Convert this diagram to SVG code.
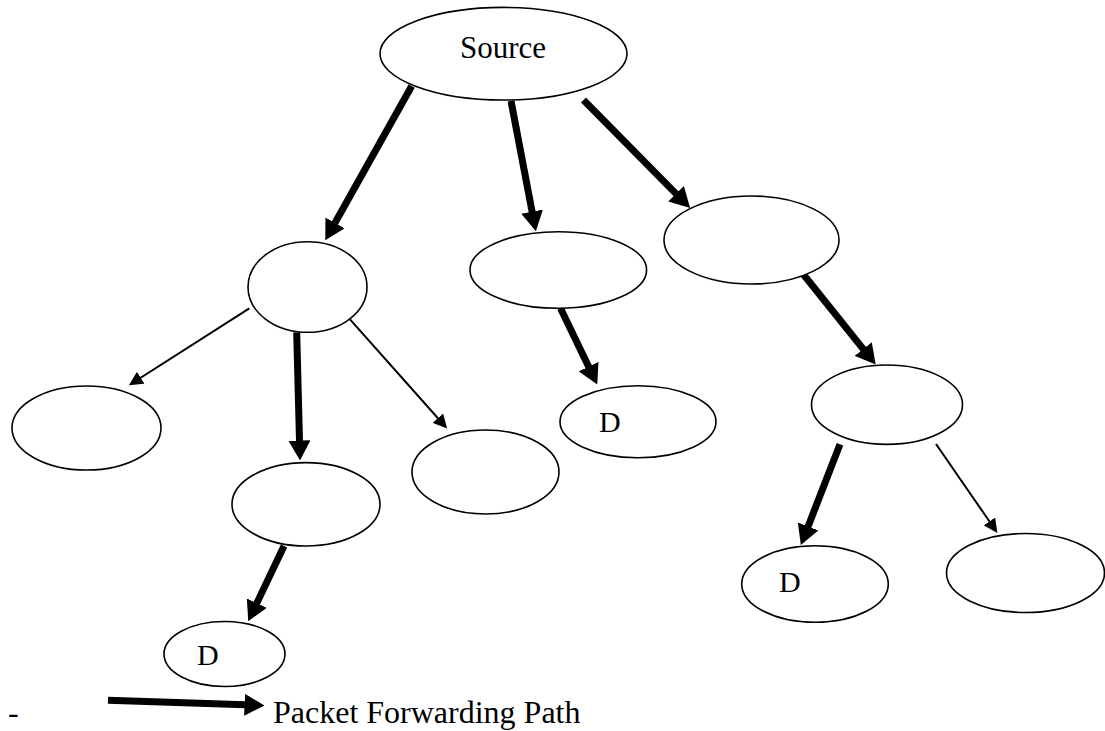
<svg xmlns="http://www.w3.org/2000/svg" width="1105" height="731" viewBox="0 0 1105 731">
<style>
.node{fill:#fff;stroke:#000;stroke-width:1.6}
.thick{stroke:#000;stroke-width:7;fill:none}
.thin{stroke:#000;stroke-width:2;fill:none}
text{fill:#000}
</style>
<defs>
<marker id="hk" markerUnits="userSpaceOnUse" viewBox="0 -11 20 22" refX="0.5" refY="0" markerWidth="20" markerHeight="22" orient="auto">
<path d="M0,-11 L20,0 L0,11 Z" fill="#000"/>
</marker>
<marker id="hn" markerUnits="userSpaceOnUse" viewBox="0 -7 14 14" refX="0.5" refY="0" markerWidth="14" markerHeight="14" orient="auto">
<path d="M0,-7 L14,0 L0,7 Z" fill="#000"/>
</marker>
</defs>
<rect width="1105" height="731" fill="#fff"/>
<g id="connectors">
<line class="thick" x1="411.7" y1="86" x2="334.8" y2="223.3" marker-end="url(#hk)"/>
<line class="thick" x1="511" y1="101" x2="532.2" y2="212.1" marker-end="url(#hk)"/>
<line class="thick" x1="583.5" y1="100" x2="676.4" y2="194.1" marker-end="url(#hk)"/>
<line class="thin" x1="249.3" y1="308.3" x2="140.3" y2="378" marker-end="url(#hn)"/>
<line class="thick" x1="296.7" y1="332.3" x2="299.5" y2="441" marker-end="url(#hk)"/>
<line class="thin" x1="350" y1="319.3" x2="438.2" y2="418.5" marker-end="url(#hn)"/>
<line class="thick" x1="284" y1="546" x2="256.6" y2="603.6" marker-end="url(#hk)"/>
<line class="thick" x1="560.5" y1="308.3" x2="588.8" y2="367" marker-end="url(#hk)"/>
<line class="thick" x1="801.5" y1="272" x2="863.5" y2="349.4" marker-end="url(#hk)"/>
<line class="thick" x1="840" y1="444.3" x2="807.9" y2="526.9" marker-end="url(#hk)"/>
<line class="thin" x1="936" y1="444" x2="989.7" y2="521.8" marker-end="url(#hn)"/>
</g>
<g id="source"><ellipse class="node" cx="503.5" cy="53.7" rx="123.5" ry="46.3"/><text font-family="'Liberation Serif', 'Times New Roman', 'DejaVu Serif', serif" x="503" y="58" font-size="31" text-anchor="middle">Source</text></g>
<g id="nodeA"><ellipse class="node" cx="307.5" cy="287" rx="59.5" ry="45.3"/></g>
<g id="nodeB"><ellipse class="node" cx="558.3" cy="270" rx="88.3" ry="38.3"/></g>
<g id="nodeC"><ellipse class="node" cx="751.5" cy="240" rx="87.5" ry="44"/></g>
<g id="nodeA1"><ellipse class="node" cx="86.5" cy="428" rx="74.5" ry="42"/></g>
<g id="nodeA2"><ellipse class="node" cx="306" cy="504.3" rx="74" ry="41.7"/></g>
<g id="nodeA3"><ellipse class="node" cx="485.5" cy="472" rx="73.5" ry="42"/></g>
<g id="nodeD1"><ellipse class="node" cx="224.5" cy="654" rx="60.5" ry="32.5"/><text font-family="'Liberation Serif', 'Times New Roman', 'DejaVu Serif', serif" x="197" y="665" font-size="30">D</text></g>
<g id="nodeBD"><ellipse class="node" cx="638" cy="421.7" rx="78" ry="36"/><text font-family="'Liberation Serif', 'Times New Roman', 'DejaVu Serif', serif" x="599" y="432" font-size="30">D</text></g>
<g id="nodeC1"><ellipse class="node" cx="887" cy="404.7" rx="75.5" ry="39.7"/></g>
<g id="nodeCD"><ellipse class="node" cx="815" cy="584" rx="73.3" ry="38.3"/><text font-family="'Liberation Serif', 'Times New Roman', 'DejaVu Serif', serif" x="779" y="592" font-size="30">D</text></g>
<g id="nodeCR"><ellipse class="node" cx="1025.5" cy="573" rx="79" ry="39.5"/></g>
<g id="legend">
<text font-family="'Liberation Serif', 'Times New Roman', 'DejaVu Serif', serif" x="8" y="723" font-size="32">-</text>
<line class="thick" x1="108" y1="700.3" x2="245" y2="704.8" marker-end="url(#hk)"/>
<text font-family="'Liberation Serif', 'Times New Roman', 'DejaVu Serif', serif" x="273" y="723" font-size="32">Packet Forwarding Path</text>
</g>
</svg>
